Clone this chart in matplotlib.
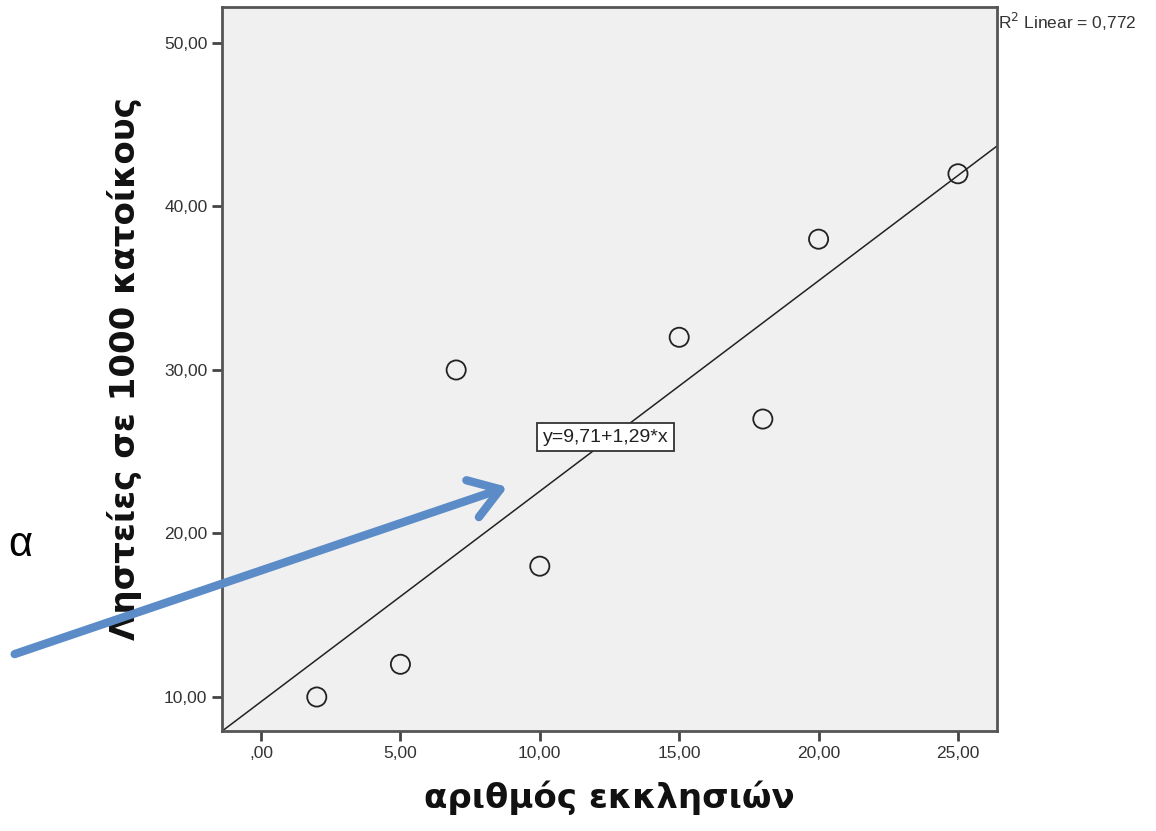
import numpy as np
import matplotlib
matplotlib.use("Agg")
import matplotlib.pyplot as plt
from matplotlib.patches import FancyArrowPatch

# data
churches = [2, 5, 7, 10, 15, 18, 20, 25]
robberies = [10, 12, 30, 18, 32, 27, 38, 42]
x_ticks = [0, 5, 10, 15, 20, 25]
y_ticks = [10, 20, 30, 40, 50]

def comma(v, dec=2, lead=False):
    s = ("%." + str(dec) + "f") % v
    s = s.replace(".", ",")
    if s.startswith("0") and not lead:
        s = s[1:]
    return s

slope, intercept = np.polyfit(churches, robberies, 1)
pred = np.polyval([slope, intercept], churches)
y = np.array(robberies)
r2 = 1 - np.sum((y - pred) ** 2) / np.sum((y - y.mean()) ** 2)

W, H = 1156, 831
fig = plt.figure(figsize=(W / 100, H / 100), dpi=100)
ax = fig.add_axes([222 / W, 1 - 731 / H, (997 - 222) / W, (731 - 7) / H])
ax.set_facecolor("#f0f0f0")
ax.set_xlim(-1.4, 26.4)
ax.set_ylim(7.92, 52.2)

xs = np.array(ax.get_xlim())
ax.plot(xs, intercept + slope * xs, color="#222222", lw=1.1)
ax.scatter(churches, robberies, s=190, facecolors="none", edgecolors="#222222", linewidths=1.3, zorder=3)

small = "Liberation Sans"
ax.set_xticks(x_ticks)
ax.set_xticklabels([comma(v) for v in x_ticks], family=small)
ax.set_yticks(y_ticks)
ax.set_yticklabels([comma(v) for v in y_ticks], family=small)
ax.tick_params(colors="#444444", labelcolor="#333333", labelsize=12.5, width=2, length=7)
for sp in ax.spines.values():
    sp.set_color("#555555")
    sp.set_linewidth(2)

ax.set_xlabel("αριθμός εκκλησιών", fontsize=24.5, fontweight="bold", labelpad=14, color="#111111")
ax.set_ylabel("Ληστείες σε 1000 κατοίκους", fontsize=24.5, fontweight="bold", labelpad=16, color="#111111")

ax.text(10.1, 25.9, "y=%s+%s*x" % (comma(intercept, lead=True), comma(slope, lead=True)),
        fontsize=14, family=small, ha="left", va="center", color="#222222",
        bbox=dict(boxstyle="square,pad=0.3", facecolor="white", edgecolor="#333333", lw=1.3))

fig.text(998 / W, 1 - 22 / H, "R$^2$ Linear = %s" % comma(r2, 3, lead=True), fontsize=12.5,
         family=small, ha="left", va="center", color="#333333")
fig.text(8 / W, 1 - 545 / H, "α", fontsize=30, family="Liberation Sans", ha="left", va="center", color="black")

fig.add_artist(FancyArrowPatch(
    (12 / W, 1 - 655 / H), (510 / W, 1 - 486 / H), transform=fig.transFigure,
    arrowstyle="->,head_length=1.5,head_width=1.0", mutation_scale=14,
    color="#5b8cc8", lw=6, capstyle="round", joinstyle="round"))

fig.savefig("out.png", dpi=100)
